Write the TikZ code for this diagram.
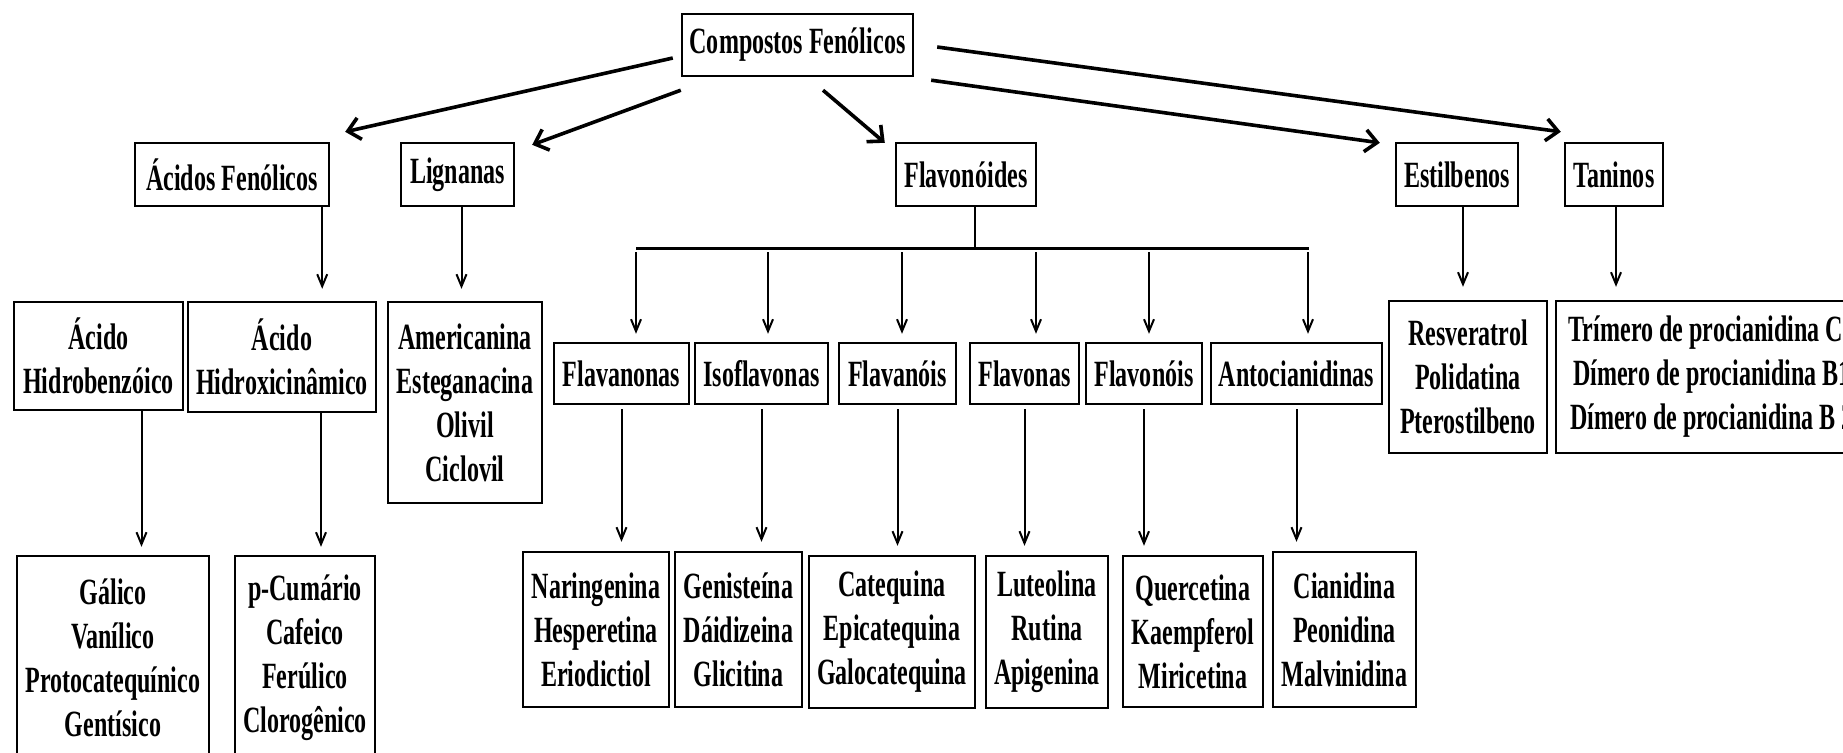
\documentclass[tikz,border=0pt]{standalone}
\usepackage{fontspec}
\newfontfamily\fonte{Liberation Serif}[FakeStretch=0.65]
\usetikzlibrary{arrows.meta,calc}
\tikzset{
  caixa/.style 2 args={draw, line width=1.2pt, align=center, inner xsep=2pt, inner ysep=0pt,
    minimum width=#1*0.5pt, minimum height=#2*0.5pt,
    font=\fonte\bfseries\fontsize{18.5}{22}\selectfont},
  seta grossa/.style={-{Straight Barb[length=6pt,width=11pt]}, line width=1.8pt},
  seta fina/.style={-{Straight Barb[length=6pt,width=5pt]}, line width=1pt},
}
\begin{document}
\begin{tikzpicture}[x=0.5pt,y=0.5pt,yscale=-1]
\useasboundingbox (0,0) rectangle (1843,752);
\clip (0,0) rectangle (1843,752);

% Raiz e classes
\node[caixa={231}{62}] (comp) at (797.5,45) {Compostos Fenólicos};
\node[caixa={194}{63}] (acidos) at (232,174.5) {Ácidos Fenólicos};
\node[caixa={113}{63}] (lign) at (457.5,174.5) {Lignanas};
\node[caixa={140}{63}] (flav) at (966,174.5) {Flavonóides};
\node[caixa={122}{63}] (estil) at (1457,174.5) {Estilbenos};
\node[caixa={98}{63}] (tanin) at (1614,174.5) {Taninos};

% Subclasses
\node[caixa={169}{108}] (hidrob) at (98.5,356) {Ácido\\Hidrobenzóico};
\node[caixa={188}{110}] (hidrox) at (282,357) {Ácido\\Hidroxicinâmico};
\node[caixa={154}{201}] (amer) at (465,402.5) {Americanina\\Esteganacina\\Olivil\\Ciclovil};
\node[caixa={135}{61}] (flavan) at (621.5,373.5) {Flavanonas};
\node[caixa={133}{61}] (isofl) at (761.5,373.5) {Isoflavonas};
\node[caixa={117}{61}] (flavanol) at (897.5,373.5) {Flavanóis};
\node[caixa={109}{61}] (flavona) at (1024.5,373.5) {Flavonas};
\node[caixa={116}{61}] (flavonol) at (1144,373.5) {Flavonóis};
\node[caixa={171}{61}] (antoc) at (1296.5,373.5) {Antocianidinas};
\node[caixa={158}{152}] (resv) at (1468,377) {Resveratrol\\Polidatina\\Pterostilbeno};
\node[caixa={312}{152}] (trim) at (1712,377) {Trímero de procianidina C1\\Dímero de procianidina B1\\Dímero de procianidina B 2};

% Compostos
\node[caixa={192}{204}] (gal) at (113,658) {Gálico\\Vanílico\\Protocatequínico\\Gentísico};
\node[caixa={140}{204}] (cum) at (305,658) {p-Cumário\\Cafeico\\Ferúlico\\Clorogênico};
\node[caixa={146}{155}] (nar) at (596,629.5) {Naringenina\\Hesperetina\\Eriodictiol};
\node[caixa={127}{155}] (gen) at (738.5,629.5) {Genisteína\\Dáidizeina\\Glicitina};
\node[caixa={166}{152}] (cat) at (892,632) {Catequina\\Epicatequina\\Galocatequina};
\node[caixa={122}{152}] (lut) at (1047,632) {Luteolina\\Rutina\\Apigenina};
\node[caixa={140}{151}] (quer) at (1193,631.5) {Quercetina\\Kaempferol\\Miricetina};
\node[caixa={143}{155}] (cian) at (1344.5,629.5) {Cianidina\\Peonidina\\Malvinidina};

% Setas da raiz
\draw[seta grossa] ($(comp.west)+(-8,13)$) -- ($(acidos.north east)+(15,-10)$);
\draw[seta grossa] ($(comp.south west)+(0,13)$) -- ($(lign.north east)+(17,3)$);
\draw[seta grossa] ($(comp.south)+(25.5,13)$) -- ($(flav.north west)+(-10,1)$);
\draw[seta grossa] ($(comp.south east)+(17,3)$) -- ($(estil.north west)+(-15,1)$);
\draw[seta grossa] ($(comp.east)+(23,2)$) -- ($(tanin.north west)+(-3,-10)$);

% Barra dos flavonoides
\coordinate (barraE) at (636,248);
\coordinate (barraD) at (1309,248);
\draw[line width=1.5pt] (barraE) -- (barraD);
\draw[line width=1pt] ($(flav.south)+(9,0)$) coordinate (h) -- (h |- barraE);
\foreach \xa/\alvo in {636/flavan,768/isofl,902/flavanol,1036/flavona,1149/flavonol,1308/antoc}
  \draw[seta fina, shorten >=4pt] (\xa,252) coordinate (t) -- (t |- \alvo.north);
\foreach \de/\para in {flavan/nar,isofl/gen,flavanol/cat,flavona/lut,flavonol/quer,antoc/cian}
  \draw[seta fina, shorten <=2pt, shorten >=4.5pt] (\de.south) -- (\de.south |- \para.north);

% Setas verticais
\draw[seta fina, shorten >=6pt] ($(acidos.south east)+(-8,0)$) coordinate (p) -- (p |- hidrox.north);
\draw[seta fina, shorten >=6pt] ($(lign.south)+(4,0)$) coordinate (p) -- (p |- amer.north);
\draw[seta fina, shorten >=4pt] ($(hidrob.south)+(43,0)$) coordinate (p) -- (p |- gal.north);
\draw[seta fina, shorten >=4pt] ($(hidrox.south)+(39,0)$) coordinate (p) -- (p |- cum.north);
\draw[seta fina, shorten >=6.5pt] ($(estil.south)+(6,0)$) coordinate (p) -- (p |- resv.north);
\draw[seta fina, shorten >=6.5pt] ($(tanin.south)+(2,0)$) coordinate (p) -- (p |- trim.north);
\end{tikzpicture}
\end{document}
